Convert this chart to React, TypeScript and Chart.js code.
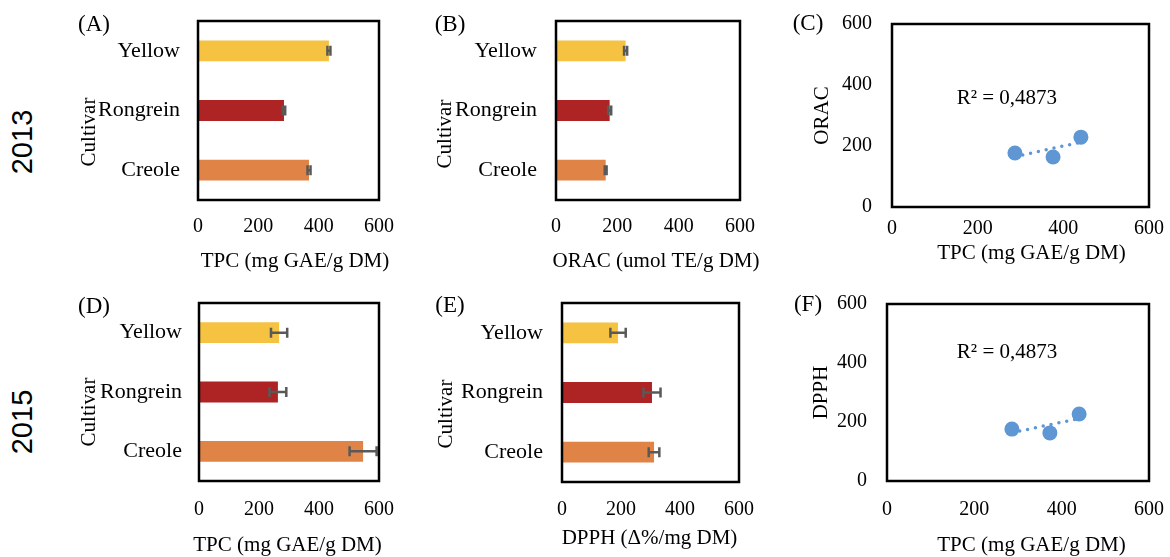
import React, { useEffect, useRef } from 'react';
import { Chart, registerables } from 'chart.js';

Chart.register(...registerables);

// ---------------- data ----------------
const cultivars = ['Yellow', 'Rongrein', 'Creole'];
const cultivarColors = ['#F5C242', '#AE2324', '#E08346'];
const axisTicks = [0, 200, 400, 600];

const tpc2013 = [434, 285, 368];
const tpc2013Err = [5, 4, 5];
const orac2013 = [227, 175, 162];
const orac2013Err = [5, 5, 3];

const tpc2015 = [267, 263, 547];
const tpc2015Err = [27, 28, 45];
const dpph2015 = [190, 305, 312];
const dpph2015Err = [26, 29, 18];

const corrC_tpc = [441, 287, 376];
const corrC_orac = [229, 177, 164];
const corrF_tpc = [440, 286, 373];
const corrF_dpph = [227, 176, 163];
const r2Label = 'R² = 0,4873';

// ---------------- styling ----------------
const SERIF = "'Liberation Serif', 'Times New Roman', serif";
const SANS = "'Liberation Sans', Arial, sans-serif";
const TICK_FONT = { family: SERIF, size: 20, lineHeight: 1.2 };
const CAT_FONT = { family: SERIF, size: 22, lineHeight: 1.2 };
const YTITLE_FONT = { family: SERIF, size: 21, lineHeight: 1.1 };
const POINT_BLUE = '#5E97D4';

const framePlugin = {
  id: 'frame',
  afterDatasetsDraw(chart: any) {
    const { ctx, chartArea: a } = chart;
    ctx.save();
    ctx.strokeStyle = '#000';
    ctx.lineWidth = 2.5;
    ctx.strokeRect(a.left, a.top, a.right - a.left, a.bottom - a.top);
    ctx.restore();
  },
};

// x-axis title drawn without width compression, centred under the plot area (+dx)
const xTitlePlugin = {
  id: 'xtitle',
  afterDraw(chart: any, _args: any, opts: any) {
    if (!opts || !opts.text) return;
    const { ctx, chartArea: a } = chart;
    ctx.save();
    ctx.font = `21px ${SERIF}`;
    ctx.fillStyle = '#000';
    ctx.textAlign = 'center';
    ctx.textBaseline = 'middle';
    ctx.fillText(opts.text, (a.left + a.right) / 2 + (opts.dx || 0), opts.y);
    ctx.restore();
  },
};

const errorBarPlugin = {
  id: 'errbars',
  afterDatasetsDraw(chart: any, _args: any, opts: any) {
    if (!opts || !opts.errors) return;
    const { ctx } = chart;
    const xs = chart.scales.x;
    const meta = chart.getDatasetMeta(0);
    const values = chart.data.datasets[0].data as number[];
    ctx.save();
    ctx.strokeStyle = '#595959';
    ctx.lineWidth = 2.5;
    meta.data.forEach((bar: any, i: number) => {
      const e = opts.errors[i];
      const x1 = xs.getPixelForValue(values[i] - e);
      const x2 = xs.getPixelForValue(values[i] + e);
      const y = bar.y;
      ctx.beginPath();
      ctx.moveTo(x1, y);
      ctx.lineTo(x2, y);
      ctx.moveTo(x1, y - 5);
      ctx.lineTo(x1, y + 5);
      ctx.moveTo(x2, y - 5);
      ctx.lineTo(x2, y + 5);
      ctx.stroke();
    });
    ctx.restore();
  },
};

const labelPlugin = {
  id: 'r2label',
  afterDatasetsDraw(chart: any, _args: any, opts: any) {
    if (!opts || !opts.text) return;
    const { ctx } = chart;
    const px = chart.scales.x.getPixelForValue(opts.x);
    const py = chart.scales.y.getPixelForValue(opts.y);
    ctx.save();
    ctx.font = `21px ${SERIF}`;
    ctx.fillStyle = '#000';
    ctx.textAlign = 'left';
    ctx.textBaseline = 'middle';
    ctx.fillText(opts.text, px, py);
    ctx.restore();
  },
};

type Layout = {
  left: number; top: number; w: number; h: number;
  yAxisW: number; padTop: number; padRight: number; xAxisH: number;
  yTickPad: number; xTickPad: number; titleY: number; titleDx: number; yTitlePad?: number;
};

const zeroPad = (s: any) => {
  s.paddingLeft = 0;
  s.paddingRight = 0;
  s.paddingTop = 0;
  s.paddingBottom = 0;
};

const valueAxis = (L: Layout, title: string | null, isX: boolean) => ({
  type: 'linear',
  min: axisTicks[0],
  max: axisTicks[axisTicks.length - 1],
  afterBuildTicks: (s: any) => {
    s.ticks = axisTicks.map((v) => ({ value: v }));
  },
  grid: { display: false, drawTicks: false },
  border: { display: false },
  ticks: {
    font: TICK_FONT, color: '#000', padding: isX ? L.xTickPad : L.yTickPad,
    autoSkip: false, maxRotation: 0,
  },
  title: title
    ? { display: true, text: title, font: YTITLE_FONT, color: '#000', padding: { top: L.yTitlePad || 0, bottom: 0 } }
    : { display: false },
  afterFit: (s: any) => {
    if (isX) s.height = L.xAxisH; else s.width = L.yAxisW;
    zeroPad(s);
  },
});

function barConfig(values: number[], errors: number[], xTitle: string, L: Layout) {
  return {
    type: 'bar',
    data: {
      labels: cultivars,
      datasets: [{
        data: values,
        backgroundColor: cultivarColors,
        categoryPercentage: 1,
        barPercentage: 0.35,
      }],
    },
    options: {
      indexAxis: 'y',
      animation: false,
      responsive: true,
      maintainAspectRatio: false,
      events: [],
      layout: { padding: { top: L.padTop, right: L.padRight, left: 0, bottom: 0 } },
      plugins: {
        legend: { display: false },
        tooltip: { enabled: false },
        errbars: { errors },
        xtitle: { text: xTitle, dx: L.titleDx, y: L.titleY - L.top },
      },
      scales: {
        x: valueAxis(L, null, true),
        y: {
          type: 'category',
          grid: { display: false, drawTicks: false },
          border: { display: false },
          ticks: { font: CAT_FONT, color: '#000', padding: L.yTickPad, autoSkip: false },
          afterFit: (s: any) => { s.width = L.yAxisW; zeroPad(s); },
        },
      },
    },
    plugins: [errorBarPlugin, framePlugin, xTitlePlugin],
  };
}

function trend(xs: number[], ys: number[]) {
  const n = xs.length;
  const mx = xs.reduce((a, b) => a + b, 0) / n;
  const my = ys.reduce((a, b) => a + b, 0) / n;
  let sxy = 0, sxx = 0;
  for (let i = 0; i < n; i++) {
    sxy += (xs[i] - mx) * (ys[i] - my);
    sxx += (xs[i] - mx) ** 2;
  }
  const b = sxy / sxx;
  const a = my - b * mx;
  const x0 = Math.min(...xs), x1 = Math.max(...xs);
  return [{ x: x0, y: a + b * x0 }, { x: x1, y: a + b * x1 }];
}

function scatterConfig(xs: number[], ys: number[], yTitle: string, anchor: { x: number; y: number }, L: Layout) {
  return {
    type: 'scatter',
    data: {
      datasets: [
        {
          data: xs.map((x, i) => ({ x, y: ys[i] })),
          backgroundColor: POINT_BLUE,
          borderColor: POINT_BLUE,
          pointRadius: 7.5,
          borderWidth: 0,
        },
        {
          data: trend(xs, ys),
          showLine: true,
          borderColor: POINT_BLUE,
          borderWidth: 3.5,
          borderDash: [0, 8],
          borderCapStyle: 'round',
          pointRadius: 0,
          fill: false,
        },
      ],
    },
    options: {
      animation: false,
      responsive: true,
      maintainAspectRatio: false,
      events: [],
      layout: { padding: { top: L.padTop, right: L.padRight, left: 0, bottom: 0 } },
      plugins: {
        legend: { display: false },
        tooltip: { enabled: false },
        r2label: { text: r2Label, x: anchor.x, y: anchor.y },
        xtitle: { text: 'TPC (mg GAE/g DM)', dx: L.titleDx, y: L.titleY - L.top },
      },
      scales: {
        x: valueAxis(L, null, true),
        y: valueAxis(L, yTitle, false),
      },
    },
    plugins: [labelPlugin, framePlugin, xTitlePlugin],
  };
}

function ChartBox({ L, config }: { L: Layout; config: any }) {
  const ref = useRef<HTMLCanvasElement | null>(null);
  useEffect(() => {
    if (!ref.current) return;
    const chart = new Chart(ref.current, config);
    return () => chart.destroy();
  }, []);
  return (
    <div style={{ position: 'absolute', left: L.left, top: L.top, width: L.w, height: L.h }}>
      <canvas ref={ref} />
    </div>
  );
}

function Text({ x, y, text, rotate = false, font = SERIF, size = 20 }: any) {
  return (
    <div
      style={{
        position: 'absolute', left: x, top: y,
        transform: `translate(-50%, -50%)${rotate ? ' rotate(-90deg)' : ''}`,
        fontFamily: font, fontSize: size, lineHeight: 1.2, whiteSpace: 'nowrap', color: '#000',
      }}
    >
      {text}
    </div>
  );
}

const LA: Layout = { left: 60, top: 0, w: 335, h: 280, yAxisW: 138, padTop: 21, padRight: 16, xAxisH: 80, yTickPad: 18, xTickPad: 15, titleY: 261, titleDx: 6.5 };
const LB: Layout = { left: 420, top: 0, w: 360, h: 280, yAxisW: 136, padTop: 21, padRight: 40, xAxisH: 80, yTickPad: 19, xTickPad: 15, titleY: 261, titleDx: 8 };
const LC: Layout = { left: 800, top: 0, w: 370, h: 280, yAxisW: 92, padTop: 24, padRight: 21, xAxisH: 73, yTickPad: 20, xTickPad: 10, titleY: 253, titleDx: 11, yTitlePad: 11 };
const LD: Layout = { left: 60, top: 280, w: 335, h: 277, yAxisW: 139, padTop: 23, padRight: 16, xAxisH: 76, yTickPad: 17, xTickPad: 17, titleY: 545, titleDx: -1.5 };
const LE: Layout = { left: 420, top: 280, w: 360, h: 277, yAxisW: 142, padTop: 23, padRight: 41, xAxisH: 75, yTickPad: 19, xTickPad: 16, titleY: 538, titleDx: -1 };
const LF: Layout = { left: 800, top: 280, w: 370, h: 277, yAxisW: 87, padTop: 24, padRight: 21, xAxisH: 76, yTickPad: 20, xTickPad: 17, titleY: 545, titleDx: 13.5, yTitlePad: 10 };

export default function App() {
  return (
    <div style={{ position: 'absolute', left: 0, top: 0, width: 1170, height: 557, background: '#fff', overflow: 'hidden' }}>
      <ChartBox L={LA} config={barConfig(tpc2013, tpc2013Err, 'TPC (mg GAE/g DM)', LA)} />
      <ChartBox L={LB} config={barConfig(orac2013, orac2013Err, 'ORAC (umol TE/g DM)', LB)} />
      <ChartBox L={LC} config={scatterConfig(corrC_tpc, corrC_orac, 'ORAC', { x: 151, y: 356 }, LC)} />
      <ChartBox L={LD} config={barConfig(tpc2015, tpc2015Err, 'TPC (mg GAE/g DM)', LD)} />
      <ChartBox L={LE} config={barConfig(dpph2015, dpph2015Err, 'DPPH (Δ%/mg DM)', LE)} />
      <ChartBox L={LF} config={scatterConfig(corrF_tpc, corrF_dpph, 'DPPH', { x: 160, y: 437 }, LF)} />

      <Text x={94} y={24} text="(A)" size={23} />
      <Text x={450} y={24} text="(B)" size={23} />
      <Text x={808} y={23} text="(C)" size={23} />
      <Text x={94} y={306} text="(D)" size={23} />
      <Text x={450} y={305} text="(E)" size={23} />
      <Text x={808} y={304} text="(F)" size={23} />

      <Text x={89} y={132} text="Cultivar" rotate size={21} />
      <Text x={445} y={134} text="Cultivar" rotate size={21} />
      <Text x={89} y={412} text="Cultivar" rotate size={21} />
      <Text x={446} y={414} text="Cultivar" rotate size={21} />

      <Text x={22} y={142} text="2013" rotate font={SANS} size={29} />
      <Text x={22} y={422} text="2015" rotate font={SANS} size={29} />
    </div>
  );
}
